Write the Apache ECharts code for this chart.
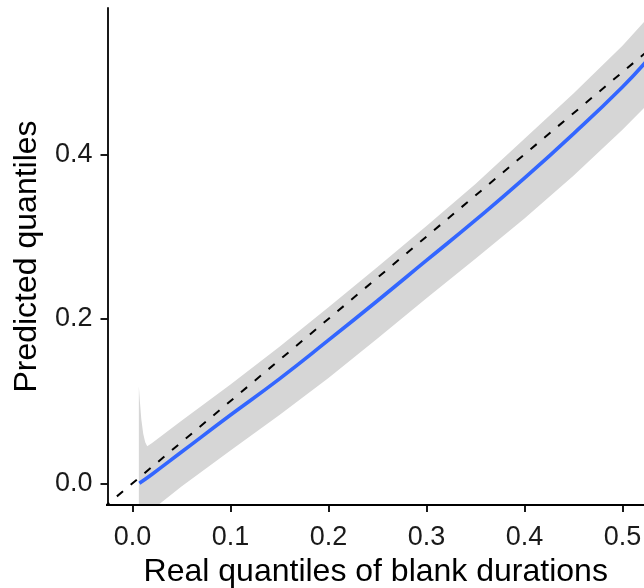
<!DOCTYPE html>
<html>
<head>
<meta charset="utf-8">
<script src="https://cdn.jsdelivr.net/npm/echarts@6/dist/echarts.min.js"></script>
<style>
html,body{margin:0;padding:0;background:#fff;}
#chart{width:644px;height:588px;}
</style>
</head>
<body>
<div id="chart"></div>
<script>
// Tick labels
const xTicks = [0.0, 0.1, 0.2, 0.3, 0.4, 0.5];
const yTicks = [0.0, 0.2, 0.4];

// Fitted curve (blue)
const fitX = [0.007, 0.02, 0.05, 0.1, 0.15, 0.2, 0.25, 0.3, 0.35, 0.4, 0.45, 0.5, 0.525];
const fitY = [0.000, 0.011, 0.038, 0.083, 0.127, 0.174, 0.222, 0.271, 0.320, 0.371, 0.425, 0.482, 0.514];

// Confidence band (grey)
const bandUpperX = [0.0065, 0.0075, 0.009, 0.011, 0.013, 0.015, 0.02, 0.05, 0.1, 0.15, 0.2, 0.25, 0.3, 0.35, 0.4, 0.45, 0.5, 0.525];
const bandUpperY = [0.118, 0.100, 0.078, 0.060, 0.050, 0.045, 0.049, 0.076, 0.120, 0.166, 0.214, 0.263, 0.313, 0.364, 0.419, 0.474, 0.532, 0.565];
const bandLowerX = [0.0065, 0.05, 0.1, 0.15, 0.2, 0.25, 0.3, 0.35, 0.4, 0.45, 0.5, 0.525];
const bandLowerY = [-0.045, -0.004, 0.040, 0.083, 0.128, 0.176, 0.225, 0.273, 0.322, 0.374, 0.430, 0.460];

// Identity reference line
const refX = [-0.03, 0.53];
const refY = [-0.03, 0.53];

const FONT = 'Liberation Sans, Arial, Helvetica, sans-serif';

const chart = echarts.init(document.getElementById('chart'), null, {renderer: 'canvas'});

const axisCommon = {
  z: 10,
  splitLine: {show: false},
  axisLine: {show: true, onZero: false, lineStyle: {color: '#000', width: 1.8}},
  axisTick: {show: true, length: 7, inside: false, lineStyle: {color: '#000', width: 1.8}},
  nameLocation: 'middle',
  nameTextStyle: {fontFamily: FONT, fontSize: 32, color: '#000'}
};

chart.setOption({
  animation: false,
  backgroundColor: '#fff',
  grid: {left: 107.5, right: 0, top: 8, bottom: 83, containLabel: false, outerBoundsMode: 'none'},
  xAxis: Object.assign({}, axisCommon, {
    type: 'value',
    min: -0.0255,
    max: 0.522,
    name: 'Real quantiles of blank durations',
    nameGap: 48,
    axisTick: Object.assign({}, axisCommon.axisTick, {customValues: xTicks}),
    axisLabel: {
      customValues: xTicks,
      formatter: v => v.toFixed(1),
      fontFamily: FONT, fontSize: 27, color: '#1a1a1a', margin: 19
    }
  }),
  yAxis: Object.assign({}, axisCommon, {
    type: 'value',
    min: -0.0264,
    max: 0.578,
    name: 'Predicted quantiles',
    nameGap: 64,
    nameRotate: 90,
    axisTick: Object.assign({}, axisCommon.axisTick, {customValues: yTicks}),
    axisLabel: {
      customValues: yTicks,
      formatter: v => v.toFixed(1),
      fontFamily: FONT, fontSize: 27, color: '#1a1a1a', margin: 15
    }
  }),
  series: [
    {
      type: 'custom',
      clip: true,
      silent: true,
      z: 1,
      data: [[bandUpperX[0], bandUpperY[0]]],
      renderItem: function (params, api) {
        if (params.dataIndex !== 0) return;
        const pts = [];
        for (let i = 0; i < bandUpperX.length; i++) pts.push(api.coord([bandUpperX[i], bandUpperY[i]]));
        for (let i = bandLowerX.length - 1; i >= 0; i--) pts.push(api.coord([bandLowerX[i], bandLowerY[i]]));
        return {type: 'polygon', shape: {points: pts}, style: {fill: '#d6d6d6', stroke: null}};
      }
    },
    {
      type: 'line',
      z: 3,
      symbol: 'none',
      clip: true,
      data: refX.map((x, i) => [x, refY[i]]),
      lineStyle: {color: '#000', width: 2, type: [8, 10]}
    },
    {
      type: 'line',
      z: 4,
      symbol: 'none',
      smooth: true,
      clip: true,
      data: fitX.map((x, i) => [x, fitY[i]]),
      lineStyle: {color: '#3366FF', width: 3.6}
    }
  ]
});
</script>
</body>
</html>
